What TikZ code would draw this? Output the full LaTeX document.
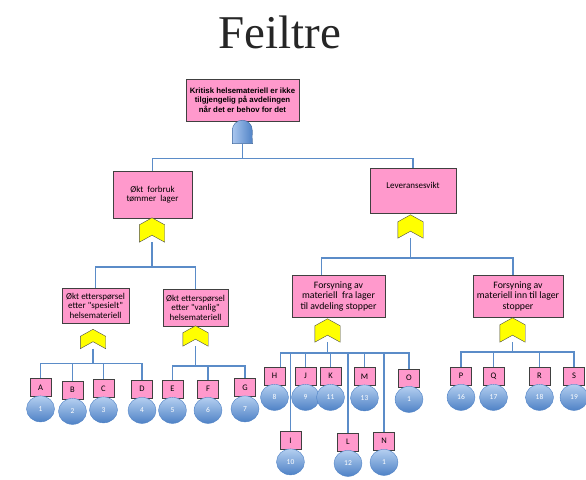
\documentclass[tikz,border=0pt]{standalone}
\usepackage{fontspec}
\newfontfamily\calibri{Carlito}
\newfontfamily\arialfont{Liberation Sans}
\newfontfamily\titlefont{Liberation Serif}
\usetikzlibrary{shapes.geometric, positioning}

\definecolor{boxpink}{HTML}{FF99CC}
\definecolor{wireblue}{HTML}{5B8CC8}
\definecolor{gateyellow}{HTML}{FFFF00}
\definecolor{leaftop}{HTML}{B4CFF0}
\definecolor{leafbot}{HTML}{4F82C6}
\definecolor{andlight}{HTML}{A9C6EE}

\begin{document}
\begin{tikzpicture}[x=1pt, y=-1pt,
  event/.style={rectangle, draw=black!75, fill=boxpink, text centered, align=center, inner sep=1pt, font=\calibri\fontsize{9}{9.5}\selectfont},
  basic/.style={rectangle, draw=black!75, fill=boxpink, minimum width=21pt, minimum height=18pt, inner sep=0pt, font=\calibri\fontsize{8.5}{9}\selectfont},
  leaf/.style={ellipse, draw=leafbot, top color=leaftop, bottom color=leafbot, minimum width=28pt, minimum height=26pt, inner sep=0pt, text=white, font=\calibri\fontsize{7.5}{8}\selectfont},
  orgate/.style={rectangle, minimum width=25pt, minimum height=22pt, inner sep=0pt},
  wire/.style={wireblue, line width=1.5pt}]

  \useasboundingbox (0,0) rectangle (586,479);

  % Title
  \node (title) at (280,32) {\titlefont\fontsize{47}{50}\selectfont\color{black!85}Feiltre};

  % Events
  \node (top) [event, minimum width=113pt, minimum height=42pt, font=\arialfont\bfseries\fontsize{7.8}{9.5}\selectfont] at (242.5,100) {Kritisk helsemateriell er ikke\\ tilgjengelig på avdelingen\\ når det er behov for det};
  \node (andgate) [orgate, minimum width=20pt, minimum height=23pt, below=-1pt of top] {};

  \node (okt) [event, minimum width=79pt, minimum height=47pt] at (152.5,194.5) {Økt \ forbruk\\ tømmer \ lager};
  \node (lev) [event, minimum width=86pt, minimum height=45pt] at (413,190.5) {\raisebox{5pt}[\height][\depth]{Leveransesvikt}};
  \node (gokt) [orgate, minimum height=24pt] at (152,230) {};
  \node (glev) [orgate, minimum height=23pt] at (410.5,226.5) {};

  \node (spes) [event, minimum width=67pt, minimum height=35pt] at (95.5,305.5) {Økt etterspørsel\\ etter "spesielt"\\ helsemateriell};
  \node (vanl) [event, minimum width=65pt, minimum height=37pt] at (195.5,307.5) {Økt etterspørsel\\ etter "vanlig"\\ helsemateriell};
  \node (fra) [event, minimum width=93pt, minimum height=42pt, font=\calibri\fontsize{9.8}{10.5}\selectfont] at (338.5,296) {Forsyning av\\ materiell \ fra lager\\ til avdeling stopper};
  \node (inn) [event, minimum width=90pt, minimum height=42pt, font=\calibri\fontsize{9.8}{10.5}\selectfont] at (518,296) {Forsyning av\\ materiell inn til lager\\ stopper};
  \node (gspes) [orgate, minimum height=19pt] at (93,339) {};
  \node (gvanl) [orgate, minimum height=20pt] at (195.5,336) {};
  \node (gfra) [orgate, minimum height=23pt] at (327.5,330.5) {};
  \node (ginn) [orgate, minimum height=24pt] at (512.5,330) {};

  % Basic events
  \foreach \b/\x/\y in {A/40.5/387.5, B/72.5/390, C/103.5/388.5, D/142/389, E/172.5/389, F/208/389, G/245/387.5,
                        H/274.5/376, J/305.5/376, K/330.5/376, M/364.5/376.5, O/409/378, I/290.5/440.5, L/348/442, N/384/441,
                        P/461/376, Q/493.5/376, R/539.5/376, S/574/376}
    \node (\b) [basic] at (\x,\y) {\b};
  \foreach \b/\n in {A/1, B/2, C/3, D/4, E/5, F/6, G/7, H/8, J/9, K/11, M/13, O/1, I/10, L/12, N/1, P/16, Q/17, R/18, S/19}
    \node (n\b) [leaf, below=-1pt of \b] {\n};

  % Connectors
  \draw [wire] (andgate.south) -- ++(0,15) coordinate (bus0);
  \draw [wire] (bus0) -| (okt.north);
  \draw [wire] (bus0) -| (lev.north);

  \draw [wire] (gokt.south) -- ++(0,25) coordinate (bus1);
  \draw [wire] (bus1) -| (spes.north);
  \draw [wire] (bus1) -| (vanl.north);

  \draw [wire] (glev.south) -- ++(0,20) coordinate (bus2);
  \draw [wire] (bus2) -| ([xshift=-17pt]fra.north);
  \draw [wire] (bus2) -| ([xshift=-5pt]inn.north);

  \draw [wire] (gspes.south) -- ++(0,15) coordinate (bus3);
  \foreach \b in {A,B,C,D}
    \draw [wire] (bus3) -| (\b.north);

  \draw [wire] (gvanl.south) -- ++(0,20) coordinate (bus4);
  \foreach \b in {E,F,G}
    \draw [wire] (bus4) -| (\b.north);

  \draw [wire] (gfra.south) -- ++(0,11) coordinate (bus5);
  \draw [wire] (bus5) -| ([xshift=6pt]H.north);
  \foreach \b in {I,J,K,L,M,N,O}
    \draw [wire] (bus5) -| (\b.north);

  \draw [wire] (ginn.south) -- ++(0,10) coordinate (bus6);
  \foreach \b in {P,Q,R,S}
    \draw [wire] (bus6) -| (\b.north);

  % Gates
  \shade [left color=andlight, right color=leafbot, draw=leafbot!80!black] (andgate.south west) -- ([yshift=-10pt]andgate.north west)
    arc [start angle=180, end angle=0, radius=10pt] -- (andgate.south east) -- cycle;
  \foreach \g in {gokt, glev, gspes, gvanl, gfra, ginn}
    \draw [fill=gateyellow, draw=black!70] (\g.south west) -- ([yshift=-7pt]\g.north west) -- (\g.north)
      -- ([yshift=-7pt]\g.north east) -- (\g.south east) -- ([yshift=7pt]\g.south) -- cycle;

\end{tikzpicture}
\end{document}
